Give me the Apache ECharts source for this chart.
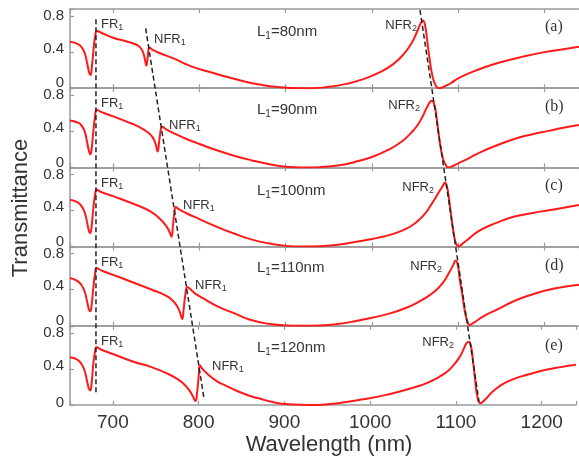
<!DOCTYPE html>
<html><head><meta charset="utf-8">
<script src="https://cdn.jsdelivr.net/npm/echarts@6/dist/echarts.min.js"></script>
<style>html,body{margin:0;padding:0;background:#fff}#c{width:579px;height:461px}</style>
</head><body><div id="c"></div>
<script>
// ---------------- data ----------------
const xTicks = [700, 800, 900, 1000, 1100, 1200];
const yTicks = [0, 0.4, 0.8];
const yTickLabels = ['0', '0.4', '0.8'];
const panelTags = ['(a)', '(b)', '(c)', '(d)', '(e)'];
const lengthLabels = ['80nm', '90nm', '100nm', '110nm', '120nm'];
const xName = 'Wavelength (nm)';
const yName = 'Transmittance';

const curveA = [[650,0.515],[658,0.495],[663,0.46],[667,0.39],[670,0.27],[672.3,0.17],[673.8,0.145],[675.5,0.25],[677.5,0.45],[679.5,0.6],[681,0.635],[686,0.615],[700,0.56],[715,0.52],[725,0.49],[731,0.455],[735,0.39],[737.2,0.3],[738.5,0.25],[740,0.34],[742.2,0.45],[746,0.425],[755,0.385],[770,0.33],[790,0.245],[810,0.185],[830,0.13],[850,0.08],[870,0.04],[890,0.012],[910,0.002],[930,0.0],[950,0.015],[970,0.048],[990,0.1],[1010,0.18],[1025,0.27],[1037,0.38],[1046,0.5],[1052,0.62],[1056,0.71],[1059,0.75],[1061.5,0.7],[1064,0.53],[1067,0.31],[1070.5,0.12],[1074,0.03],[1077.5,0.0],[1083,0.015],[1092,0.06],[1100,0.11],[1115,0.175],[1130,0.23],[1150,0.29],[1175,0.35],[1200,0.4],[1220,0.43],[1240,0.46]];
const curveB = [[650,0.52],[658,0.5],[663,0.47],[667,0.4],[670,0.27],[672,0.18],[673.5,0.145],[675,0.2],[677,0.4],[679,0.56],[681,0.64],[686,0.615],[700,0.565],[715,0.51],[730,0.45],[740,0.39],[746,0.33],[749.5,0.25],[751.5,0.175],[753.5,0.3],[755.3,0.42],[757,0.45],[761,0.425],[770,0.38],[785,0.315],[800,0.26],[820,0.19],[840,0.13],[860,0.08],[880,0.038],[900,0.008],[920,0.0],[940,0.003],[960,0.02],[980,0.06],[1000,0.115],[1020,0.2],[1035,0.29],[1045,0.38],[1053,0.47],[1059,0.57],[1064,0.67],[1069.5,0.74],[1072.5,0.69],[1075,0.55],[1077.3,0.375],[1080,0.2],[1083,0.08],[1086,0.02],[1088,0.0],[1093,0.012],[1100,0.045],[1112,0.1],[1126,0.17],[1145,0.245],[1165,0.315],[1185,0.365],[1205,0.405],[1222,0.44],[1240,0.47]];
const curveC = [[650,0.52],[658,0.495],[663,0.455],[667,0.38],[670,0.26],[672,0.17],[673.5,0.15],[675,0.22],[677,0.42],[679,0.57],[681,0.63],[686,0.605],[700,0.56],[715,0.505],[730,0.45],[745,0.38],[755,0.3],[761,0.235],[765,0.17],[767.7,0.11],[769.2,0.22],[770.8,0.36],[772.7,0.44],[776,0.415],[785,0.37],[800,0.305],[820,0.22],[840,0.145],[860,0.08],[880,0.036],[900,0.008],[920,0.0],[940,0.004],[960,0.02],[980,0.05],[1000,0.085],[1015,0.115],[1029,0.155],[1040,0.2],[1048,0.245],[1056,0.31],[1062,0.37],[1067,0.44],[1073,0.53],[1078,0.61],[1082,0.67],[1084.8,0.71],[1086.5,0.68],[1088.5,0.59],[1090.5,0.44],[1092.4,0.3],[1094.3,0.17],[1096.2,0.074],[1098.2,0.02],[1100,0.0],[1104,0.025],[1110,0.07],[1125,0.18],[1145,0.265],[1164,0.33],[1185,0.37],[1203,0.4],[1222,0.43],[1240,0.46]];
const curveD = [[650,0.53],[658,0.5],[663,0.455],[667,0.38],[670,0.26],[672,0.18],[673.5,0.16],[675,0.22],[677,0.42],[679,0.57],[681,0.64],[686,0.615],[700,0.565],[715,0.51],[730,0.455],[745,0.4],[760,0.34],[768,0.29],[774,0.22],[777.5,0.15],[780,0.075],[781.6,0.17],[783.5,0.33],[786,0.43],[789,0.41],[795,0.36],[805,0.3],[821,0.215],[840,0.14],[858,0.07],[880,0.022],[900,0.003],[920,0.0],[940,0.004],[960,0.02],[980,0.05],[1000,0.09],[1020,0.135],[1040,0.2],[1055,0.27],[1067,0.34],[1077,0.42],[1084,0.5],[1090,0.6],[1094,0.67],[1097,0.725],[1099.5,0.67],[1102,0.5],[1104.5,0.36],[1107,0.2],[1109,0.1],[1111,0.04],[1113,0.01],[1118,0.035],[1130,0.11],[1145,0.18],[1165,0.275],[1185,0.345],[1210,0.41],[1240,0.455]];
const curveE = [[650,0.53],[658,0.505],[663,0.46],[667,0.38],[670,0.26],[672,0.18],[673.5,0.16],[675,0.22],[677,0.44],[679,0.58],[681,0.64],[686,0.615],[700,0.565],[724,0.48],[745,0.42],[763,0.35],[775,0.29],[783,0.23],[789,0.165],[793,0.1],[796.3,0.045],[798.3,0.15],[799.9,0.3],[801.5,0.44],[804,0.405],[812,0.33],[822,0.26],[831.6,0.215],[845,0.155],[860,0.1],[870,0.074],[885,0.035],[905,0.008],[930,0.0],[950,0.008],[970,0.03],[990,0.06],[1020,0.115],[1048,0.185],[1070,0.26],[1087,0.35],[1097,0.44],[1104.5,0.535],[1109,0.62],[1112,0.68],[1115,0.7],[1118,0.63],[1120,0.48],[1122,0.315],[1125,0.09],[1128.5,0.02],[1133.5,0.055],[1145,0.167],[1164,0.275],[1185,0.34],[1205,0.39],[1222,0.42],[1240,0.445]];
const curves = [curveA, curveB, curveC, curveD, curveE];

// dashed guide lines: [wavelength, stacked-panel units (bottom panel base = 0, each panel = 1)]
const guideFR1  = [[680.1, 4.87], [680.1, 0.15]];
const guideNFR1 = [[737.7, 4.756], [805.3, 0.084]];
const guideNFR2 = [[1055.7, 4.987], [1124.1, 0.042]];

// ---------------- layout ----------------
const F = '"Liberation Sans", Arial, Helvetica, sans-serif';
const FS = '"Liberation Serif", "Times New Roman", serif';
const TXT = '#333';
const AX = '#9a9a9a';
const L = 70, TOP = 9, PH = 79.2;
const YMAX = 0.878;

const grids = [], xAxes = [], yAxes = [], series = [];
for (let i = 0; i < 5; i++) {
  grids.push({ left: L, right: 0, top: TOP + i * PH, height: PH });
  const last = i === 4;
  xAxes.push({
    gridIndex: i, type: 'value', position: 'bottom', min: 650, max: 1240,
    axisLine: { show: true, lineStyle: { color: AX, width: 1.5 } },
    axisTick: { show: true, inside: true, length: 4, lineStyle: { color: AX, width: 1.2 } },
    axisLabel: { show: last, fontSize: 19, fontFamily: F, color: TXT, margin: 8,
      formatter: v => xTicks.indexOf(Math.round(v)) >= 0 && Math.abs(v - Math.round(v)) < 1e-6 ? String(Math.round(v)) : '' },
    splitLine: { show: false }
  });
  xAxes.push({
    gridIndex: i, type: 'value', position: 'top', min: 650, max: 1240,
    axisLine: { show: true, lineStyle: { color: AX, width: 1.5 } },
    axisTick: { show: true, inside: true, length: 4, lineStyle: { color: AX, width: 1.2 } },
    axisLabel: { show: false }, splitLine: { show: false }
  });
  const zeroPad = last ? 4 : 10;
  yAxes.push({
    gridIndex: i, type: 'value', min: 0, max: YMAX, interval: 0.4,
    axisLine: { show: true, lineStyle: { color: AX, width: 1.5 } },
    axisTick: { show: true, inside: true, length: 4, lineStyle: { color: AX, width: 1.2 } },
    splitLine: { show: false },
    axisLabel: {
      margin: 6, fontSize: 15, fontFamily: F, color: TXT,
      formatter: v => {
        const k = yTicks.findIndex(t => Math.abs(t - v) < 1e-6);
        return k < 0 ? '' : '{t' + k + '|' + yTickLabels[k] + '}';
      },
      rich: {
        t0: { fontSize: 15, fontFamily: F, color: TXT, padding: [0, 0, zeroPad, 0] },
        t1: { fontSize: 15, fontFamily: F, color: TXT, padding: [0, 0, 7, 0] },
        t2: { fontSize: 15, fontFamily: F, color: TXT }
      }
    }
  });
  series.push({
    type: 'line', xAxisIndex: 2 * i, yAxisIndex: i, data: curves[i],
    showSymbol: false, smooth: 0.5,
    lineStyle: { color: '#ff1a1a', width: 2 }, z: 3, silent: true
  });
}
// overlay grid for guide lines across panels
grids.push({ left: L, right: 0, top: TOP, height: 5 * PH });
xAxes.push({ gridIndex: 5, type: 'value', min: 650, max: 1240, show: false });
yAxes.push({ gridIndex: 5, type: 'value', min: 0, max: 5, show: false });
[guideFR1, guideNFR1, guideNFR2].forEach(g => series.push({
  type: 'line', xAxisIndex: 10, yAxisIndex: 5, data: g, showSymbol: false,
  lineStyle: { color: '#222', width: 1.5, type: [5, 3] }, z: 5, silent: true
}));

// annotations
const sub = (m, s, rest, fs) => ({
  text: '{m|' + m + '}{s|' + s + '}' + (rest ? '{m|' + rest + '}' : ''),
  rich: {
    m: { fontSize: fs, fontFamily: F, fill: TXT, color: TXT, lineHeight: fs + 3 },
    s: { fontSize: Math.round(fs * 0.68), fontFamily: F, fill: TXT, color: TXT, verticalAlign: 'bottom', lineHeight: fs + 3 }
  }
});
const pos = {
  fr1:  [[101,24],[101,103],[101,183],[101,262],[101,341]],
  nfr1: [[154,39],[169,125],[183,205],[195,285],[212,366]],
  nfr2: [[417,25],[420,105],[434,187],[442,266],[454,342]],
  len:  [[257,32],[257,110],[257,191],[257,268],[257,348]],
  tag:  [[545,27],[545,107],[545,186],[545,266],[545,346]]
};
const graphic = [];
for (let i = 0; i < 5; i++) {
  graphic.push({ type: 'text', x: pos.fr1[i][0], y: pos.fr1[i][1], z: 10,
    style: Object.assign(sub('FR', '1', '', 13), { align: 'left', verticalAlign: 'middle' }) });
  graphic.push({ type: 'text', x: pos.nfr1[i][0], y: pos.nfr1[i][1], z: 10,
    style: Object.assign(sub('NFR', '1', '', 13), { align: 'left', verticalAlign: 'middle' }) });
  graphic.push({ type: 'text', x: pos.nfr2[i][0], y: pos.nfr2[i][1], z: 10,
    style: Object.assign(sub('NFR', '2', '', 13), { align: 'right', verticalAlign: 'middle' }) });
  graphic.push({ type: 'text', x: pos.len[i][0], y: pos.len[i][1], z: 10,
    style: Object.assign(sub('L', '1', '=' + lengthLabels[i], 15), { align: 'left', verticalAlign: 'middle' }) });
  graphic.push({ type: 'text', x: pos.tag[i][0], y: pos.tag[i][1], z: 10,
    style: { text: panelTags[i], font: '16px ' + FS, fill: TXT, align: 'left', verticalAlign: 'middle' } });
}
graphic.push({ type: 'text', x: 329, y: 445, z: 10,
  style: { text: xName, font: '22px ' + F, fill: TXT, align: 'center', verticalAlign: 'middle' } });
graphic.push({ type: 'text', x: 21, y: 208, rotation: Math.PI / 2, z: 10,
  style: { text: yName, font: '22px ' + F, fill: TXT, align: 'center', verticalAlign: 'middle' } });

const chart = echarts.init(document.getElementById('c'), null, { renderer: 'canvas' });
chart.setOption({
  animation: false,
  backgroundColor: '#fff',
  textStyle: { fontFamily: F },
  grid: grids, xAxis: xAxes, yAxis: yAxes, series: series, graphic: graphic
});
</script>
</body></html>
